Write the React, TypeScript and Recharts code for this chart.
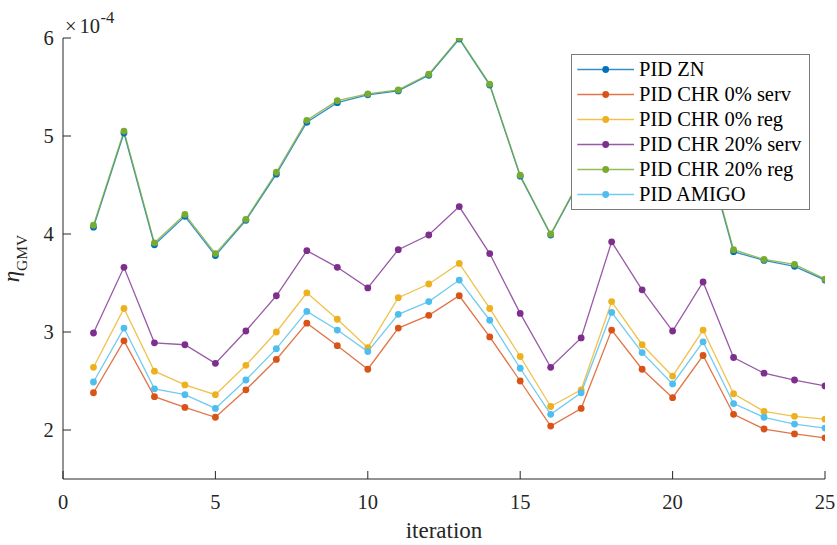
import React from 'react';
import { LineChart, Line, XAxis, YAxis, Legend } from 'recharts';

// Iteration index (x) and the GMV performance index of each tuning rule (units of 1e-4)
const ITERATIONS = [1, 2, 3, 4, 5, 6, 7, 8, 9, 10, 11, 12, 13, 14, 15, 16, 17, 18, 19, 20, 21, 22, 23, 24, 25];

const PID_ZN = [4.07, 5.03, 3.89, 4.18, 3.78, 4.14, 4.61, 5.14, 5.34, 5.42, 5.46, 5.62, 5.99, 5.52, 4.59, 3.99, 4.57, 5.23, 4.93, 4.73, 4.95, 3.82, 3.73, 3.67, 3.53];
const PID_CHR0_SERV = [2.38, 2.91, 2.34, 2.23, 2.13, 2.41, 2.72, 3.09, 2.86, 2.62, 3.04, 3.17, 3.37, 2.95, 2.50, 2.04, 2.22, 3.02, 2.62, 2.33, 2.76, 2.16, 2.01, 1.96, 1.92];
const PID_CHR0_REG = [2.64, 3.24, 2.60, 2.46, 2.36, 2.66, 3.00, 3.40, 3.13, 2.84, 3.35, 3.49, 3.70, 3.24, 2.75, 2.24, 2.41, 3.31, 2.87, 2.55, 3.02, 2.37, 2.19, 2.14, 2.11];
const PID_CHR20_SERV = [2.99, 3.66, 2.89, 2.87, 2.68, 3.01, 3.37, 3.83, 3.66, 3.45, 3.84, 3.99, 4.28, 3.80, 3.19, 2.64, 2.94, 3.92, 3.43, 3.01, 3.51, 2.74, 2.58, 2.51, 2.45];
const PID_CHR20_REG = [4.09, 5.05, 3.91, 4.20, 3.80, 4.15, 4.63, 5.16, 5.36, 5.43, 5.47, 5.63, 6.00, 5.53, 4.60, 4.00, 4.58, 5.25, 4.95, 4.75, 4.97, 3.84, 3.74, 3.69, 3.54];
const PID_AMIGO = [2.49, 3.04, 2.42, 2.36, 2.22, 2.51, 2.83, 3.21, 3.02, 2.80, 3.18, 3.31, 3.53, 3.12, 2.63, 2.16, 2.38, 3.20, 2.79, 2.47, 2.90, 2.27, 2.13, 2.06, 2.02];

const SERIES_NAMES = ['PID ZN', 'PID CHR 0% serv', 'PID CHR 0% reg', 'PID CHR 20% serv', 'PID CHR 20% reg', 'PID AMIGO'];
const SERIES_KEYS = ['zn', 'chr0serv', 'chr0reg', 'chr20serv', 'chr20reg', 'amigo'];
const SERIES_VALUES = [PID_ZN, PID_CHR0_SERV, PID_CHR0_REG, PID_CHR20_SERV, PID_CHR20_REG, PID_AMIGO];
const SERIES_COLORS = ['#0072BD', '#D95319', '#EDB120', '#7E2F8E', '#77AC30', '#4DBEEE'];

const X_TICKS = [0, 5, 10, 15, 20, 25];
const X_DOMAIN = [0, 25];
const Y_TICKS = [2, 3, 4, 5, 6];
const Y_DOMAIN = [1.5, 6];
const Y_EXPONENT = '-4';
const X_TITLE = 'iteration';

const rows = ITERATIONS.map((it, i) => {
  const row: Record<string, number> = { iteration: it };
  SERIES_KEYS.forEach((k, s) => {
    row[k] = SERIES_VALUES[s][i];
  });
  return row;
});

const FONT = '"Liberation Serif", "Times New Roman", Times, serif';
const AXIS_COLOR = '#262626';
const TICK_LEN = 8;
const FONT_SIZE = 20.5;
const TITLE_SIZE = 23;

const textStyle = (size: number, italic = false): React.CSSProperties => ({
  fontFamily: FONT,
  fontSize: `${size}px`,
  fontStyle: italic ? 'italic' : 'normal',
  fill: AXIS_COLOR,
});

function BottomTick(props: any) {
  const { x, y, payload } = props;
  return (
    <g>
      <line x1={x} y1={y} x2={x} y2={y - TICK_LEN} stroke={AXIS_COLOR} strokeWidth={1} />
      <text x={x} y={y + 30} textAnchor="middle" style={textStyle(FONT_SIZE)}>
        {payload.value}
      </text>
    </g>
  );
}

function TopTick(props: any) {
  const { x, y } = props;
  return <line x1={x} y1={y} x2={x} y2={y + TICK_LEN} stroke={AXIS_COLOR} strokeWidth={1} />;
}

function LeftTick(props: any) {
  const { x, y, payload } = props;
  return (
    <g>
      <line x1={x} y1={y} x2={x + TICK_LEN} y2={y} stroke={AXIS_COLOR} strokeWidth={1} />
      <text x={x - 9.3} y={y + 7.3} textAnchor="end" style={textStyle(FONT_SIZE)}>
        {payload.value}
      </text>
    </g>
  );
}

function RightTick(props: any) {
  const { x, y } = props;
  return <line x1={x} y1={y} x2={x - TICK_LEN} y2={y} stroke={AXIS_COLOR} strokeWidth={1} />;
}

function YTitle(props: any) {
  const vb = props.viewBox || { x: 0, y: 38, width: 63, height: 441 };
  const cy = vb.y + vb.height / 2;
  const right = vb.x + vb.width;
  return (
    <g>
      <text transform={`translate(18.5, ${cy}) rotate(-90)`} textAnchor="middle" style={textStyle(TITLE_SIZE)}>
        <tspan style={textStyle(TITLE_SIZE, true)}>η</tspan>
        <tspan style={textStyle(15.5)} dy={8}>GMV</tspan>
      </text>
      <text x={right + 2} y={vb.y - 5.5} style={textStyle(FONT_SIZE)}>
        <tspan style={textStyle(FONT_SIZE)}>×</tspan>
        <tspan style={textStyle(FONT_SIZE)} dx={3}>10</tspan>
        <tspan style={textStyle(16.5)} dx={0.5} dy={-9.5}>{Y_EXPONENT}</tspan>
      </text>
    </g>
  );
}

function XTitle(props: any) {
  const vb = props.viewBox || { x: 63, y: 479, width: 762, height: 66 };
  return (
    <text x={vb.x + vb.width / 2} y={vb.y + 59} textAnchor="middle" style={textStyle(TITLE_SIZE)}>
      {X_TITLE}
    </text>
  );
}

function LegendBox() {
  return (
    <div
      style={{
        boxSizing: 'border-box',
        width: 239,
        height: 156,
        border: '1px solid #7a7a7a',
        background: '#ffffff',
        padding: '2px 0',
        fontFamily: FONT,
        fontSize: FONT_SIZE,
        color: '#000000',
      }}
    >
      {SERIES_NAMES.map((name, i) => (
        <div key={name} style={{ display: 'flex', alignItems: 'center', height: 25, lineHeight: '25px', whiteSpace: 'nowrap' }}>
          <svg width={67} height={25} style={{ display: 'block', flex: '0 0 auto' }}>
            <line x1={5.3} y1={12.5} x2={62} y2={12.5} stroke={SERIES_COLORS[i]} strokeWidth={1.3} strokeOpacity={0.8} />
            <circle cx={33.7} cy={12.5} r={3.4} fill={SERIES_COLORS[i]} />
          </svg>
          <span>{name}</span>
        </div>
      ))}
    </div>
  );
}

export default function App() {
  return (
    <div style={{ position: 'absolute', left: 0, top: 0, width: 837, height: 545, background: '#ffffff', fontFamily: FONT }}>
      <LineChart width={837} height={545} data={rows} margin={{ top: 38, right: 12, bottom: 0, left: 0 }} style={{ fontFamily: FONT }}>
        <XAxis
          xAxisId="b"
          dataKey="iteration"
          type="number"
          domain={X_DOMAIN}
          ticks={X_TICKS}
          allowDataOverflow
          interval={0}
          height={66}
          tickSize={0}
          tickMargin={0}
          tickLine={false}
          axisLine={{ stroke: AXIS_COLOR, strokeWidth: 1 }}
          tick={(p: any) => <BottomTick {...p} />}
          label={<XTitle />}
        />
        <XAxis
          xAxisId="t"
          orientation="top"
          dataKey="iteration"
          type="number"
          domain={X_DOMAIN}
          ticks={X_TICKS}
          allowDataOverflow
          interval={0}
          height={0}
          tickSize={0}
          tickMargin={0}
          tickLine={false}
          axisLine={{ stroke: AXIS_COLOR, strokeWidth: 1 }}
          tick={(p: any) => <TopTick {...p} />}
        />
        <YAxis
          yAxisId="l"
          type="number"
          domain={Y_DOMAIN}
          ticks={Y_TICKS}
          allowDataOverflow
          interval={0}
          width={63}
          tickSize={0}
          tickMargin={0}
          tickLine={false}
          axisLine={{ stroke: AXIS_COLOR, strokeWidth: 1 }}
          tick={(p: any) => <LeftTick {...p} />}
          label={<YTitle />}
        />
        <YAxis
          yAxisId="r"
          orientation="right"
          type="number"
          domain={Y_DOMAIN}
          ticks={Y_TICKS}
          allowDataOverflow
          interval={0}
          width={0}
          tickSize={0}
          tickMargin={0}
          tickLine={false}
          axisLine={{ stroke: AXIS_COLOR, strokeWidth: 1 }}
          tick={(p: any) => <RightTick {...p} />}
        />
        {SERIES_KEYS.map((k, i) => (
          <Line
            key={k}
            xAxisId="b"
            yAxisId="l"
            type="linear"
            dataKey={k}
            name={SERIES_NAMES[i]}
            stroke={SERIES_COLORS[i]}
            strokeWidth={1.3}
            strokeOpacity={0.8}
            dot={{ r: 3.4, fill: SERIES_COLORS[i], stroke: 'none', strokeWidth: 0, fillOpacity: 1 }}
            activeDot={false}
            isAnimationActive={false}
          />
        ))}
        <Legend
          layout="vertical"
          align="center"
          verticalAlign="middle"
          wrapperStyle={{ left: 571, top: 54, width: 239, height: 156 }}
          content={() => <LegendBox />}
        />
      </LineChart>
    </div>
  );
}
